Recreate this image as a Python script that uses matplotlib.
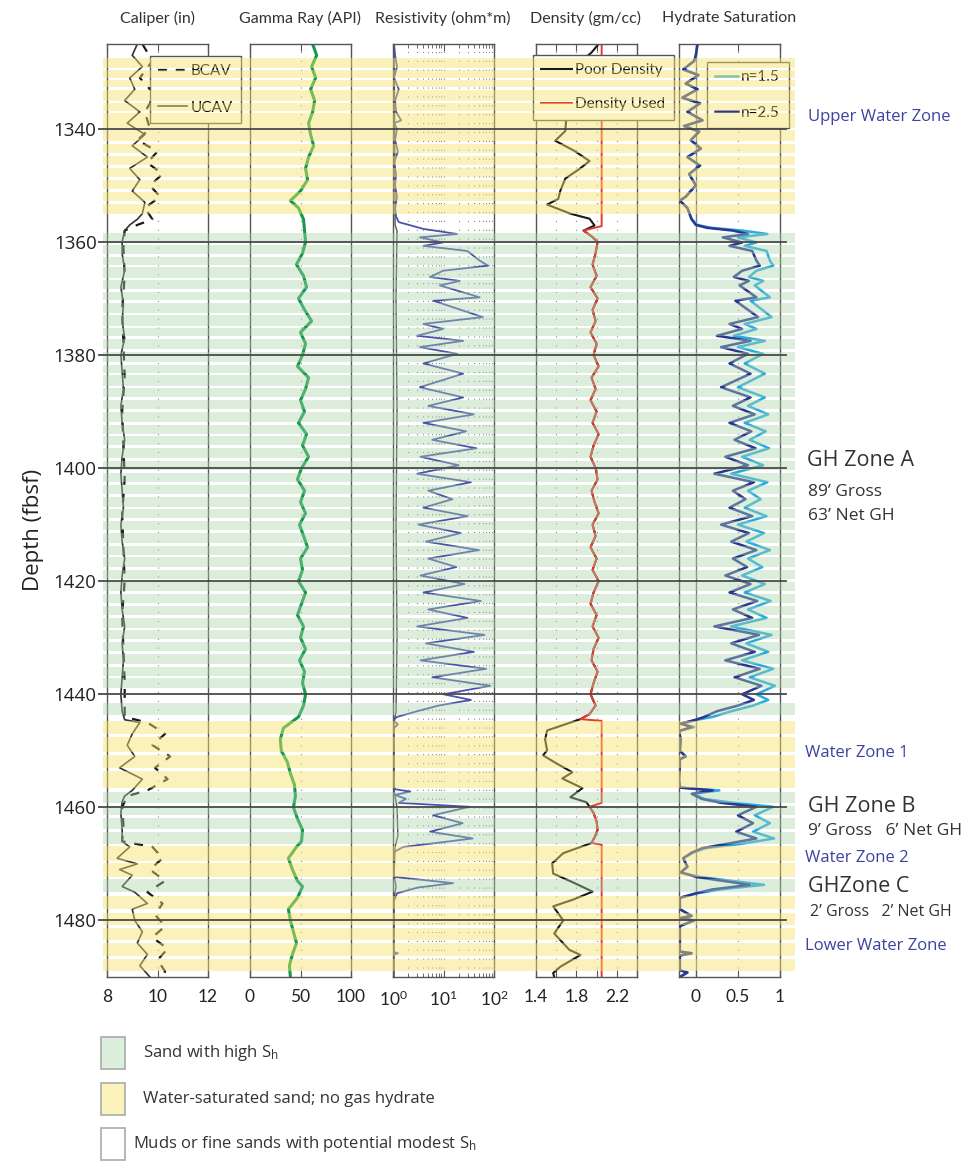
import matplotlib
matplotlib.use("Agg")
import matplotlib.pyplot as plt
from matplotlib.patches import Rectangle

NARROW = ['Lato', 'DejaVu Sans']
SANS = ['Open Sans', 'DejaVu Sans']
plt.rcParams['mathtext.fontset'] = 'custom'
plt.rcParams['mathtext.rm'] = 'Lato'
plt.rcParams['mathtext.it'] = 'Lato:italic'

# ---------------- data ----------------
depth_ticks = [1340, 1360, 1380, 1400, 1420, 1440, 1460, 1480]

yellow_bands = [(1327.5, 1329.2), (1329.6, 1331.0), (1331.3, 1332.6), (1333.1, 1335.1),
                (1335.4, 1336.8), (1337.2, 1339.8), (1340.2, 1342.1), (1342.7, 1344.2),
                (1344.8, 1346.4), (1346.9, 1348.5), (1349.0, 1350.6), (1351.1, 1352.7),
                (1353.3, 1355.0),
                (1444.7, 1447.0), (1447.6, 1450.2), (1450.8, 1453.0), (1453.6, 1456.5),
                (1466.9, 1469.5), (1469.9, 1472.3),
                (1475.6, 1478.0), (1478.6, 1480.8), (1481.3, 1483.5), (1484.0, 1486.2),
                (1486.8, 1489.0)]

green_bands = [(1358.5, 1360.2), (1360.6, 1362.2), (1362.7, 1364.0), (1364.5, 1366.3),
               (1366.8, 1368.4), (1368.9, 1370.3), (1370.8, 1372.6), (1373.0, 1374.8),
               (1375.3, 1376.7), (1377.2, 1379.0), (1379.5, 1381.2), (1381.7, 1383.1),
               (1383.6, 1385.4), (1385.9, 1387.5), (1388.0, 1389.6), (1390.1, 1391.8),
               (1392.3, 1393.9), (1394.4, 1396.0), (1396.5, 1398.2), (1398.7, 1400.3),
               (1400.8, 1402.5), (1403.0, 1404.6), (1405.1, 1406.8), (1407.3, 1408.9),
               (1409.4, 1411.0), (1411.5, 1413.2), (1413.7, 1415.3), (1415.8, 1417.5),
               (1418.0, 1419.6), (1420.1, 1421.7), (1422.2, 1423.9), (1424.4, 1426.0),
               (1426.5, 1428.2), (1428.7, 1430.3), (1430.8, 1432.4), (1432.9, 1434.6),
               (1435.1, 1436.7), (1437.2, 1438.9), (1441.5, 1443.6),
               (1457.3, 1459.2), (1459.8, 1461.3), (1461.9, 1463.8), (1464.3, 1466.5),
               (1472.7, 1475.0)]

# caliper (in)
ucav_depth = [1325, 1327, 1329, 1331, 1333, 1335, 1337, 1339, 1341, 1343,
              1345, 1347, 1349, 1351, 1353, 1355, 1356, 1357, 1358, 1360,
              1362, 1365, 1368, 1371, 1374, 1377, 1380, 1383, 1386, 1389,
              1392, 1395, 1398, 1401, 1404, 1407, 1410, 1413, 1416, 1419,
              1422, 1425, 1428, 1431, 1434, 1437, 1440, 1443, 1444.5, 1445,
              1447, 1449, 1451, 1453, 1455, 1457, 1458, 1459, 1461, 1464,
              1466, 1467, 1469, 1470, 1471, 1472, 1474, 1475, 1477, 1478,
              1480, 1482, 1484, 1486, 1488, 1490]
ucav = [9.2, 9.0, 9.4, 8.9, 9.1, 8.7, 9.3, 8.8, 9.5, 9.0,
        9.6, 8.9, 9.3, 9.0, 9.5, 9.4, 9.2, 8.9, 8.7, 8.6,
        8.6, 8.7, 8.55, 8.65, 8.6, 8.7, 8.55, 8.6, 8.65, 8.55,
        8.6, 8.7, 8.6, 8.55, 8.6, 8.65, 8.55, 8.6, 8.7, 8.6,
        8.55, 8.6, 8.7, 8.6, 8.65, 8.6, 8.55, 8.6, 8.7, 9.3,
        9.0, 8.8, 9.1, 8.5, 9.4, 9.0, 8.7, 8.6, 8.55, 8.6,
        8.6, 8.9, 8.4, 9.2, 8.5, 9.0, 8.6, 9.1, 9.6, 9.0,
        9.1, 9.4, 9.2, 9.6, 9.3, 9.7]
bcav_depth = [1325, 1328, 1331, 1334, 1337, 1340, 1342, 1344, 1346, 1348, 1350, 1352, 1354, 1356,
              1357, 1358, 1361, 1366, 1372, 1378, 1384, 1390, 1396, 1402, 1408, 1414, 1420, 1426,
              1432, 1438, 1444, 1445, 1447, 1449, 1451, 1453, 1455, 1457, 1458,
              1460, 1463, 1466, 1467, 1469, 1471, 1473, 1475, 1477, 1479,
              1481, 1483, 1485, 1487, 1489, 1490]
bcav = [9.4, 9.8, 9.3, 9.9, 9.5, 9.7, 9.2, 10.0, 9.6, 10.2, 9.7, 10.1, 9.5, 9.8,
        9.2, 8.7, 8.65, 8.7, 8.6, 8.65, 8.7, 8.6, 8.65, 8.7, 8.6, 8.65, 8.7, 8.6,
        8.65, 8.7, 8.7, 9.6, 10.3, 9.8, 10.5, 9.9, 10.4, 9.6, 8.8,
        8.6, 8.65, 8.6, 9.8, 10.2, 9.7, 10.3, 9.6, 10.2, 9.9,
        10.3, 9.8, 10.4, 10.0, 10.3, 10.2]

# gamma ray (API)
gr_depth = [1325, 1327, 1329, 1331, 1333, 1335, 1337, 1339, 1341, 1343, 1345, 1347, 1349, 1351,
            1352.7, 1354, 1356,
            1358, 1360, 1362, 1364, 1366, 1368, 1370, 1372, 1374, 1376,
            1378, 1380, 1382, 1384, 1386, 1388, 1390, 1392, 1394, 1396,
            1398, 1400, 1402, 1404, 1406, 1408, 1410, 1412, 1414, 1416,
            1418, 1420, 1422, 1424, 1426, 1428, 1430, 1432, 1434, 1436,
            1438, 1440, 1442, 1444,
            1446, 1448, 1450, 1452, 1454, 1456, 1458, 1460, 1462, 1464, 1466,
            1467, 1469, 1471, 1473, 1474, 1476, 1478, 1480, 1482, 1484, 1486, 1488, 1490]
gr = [62, 66, 61, 65, 60, 64, 62, 58, 60, 63, 58, 55, 57, 50,
      40, 48, 53,
      54, 55, 52, 46, 53, 56, 48, 54, 61, 50,
      55, 52, 47, 58, 55, 50, 54, 48, 56, 52,
      58, 51, 47, 54, 50, 55, 49, 53, 57, 50,
      52, 48, 55, 51, 47, 53, 50, 55, 49, 54,
      52, 55, 53, 48,
      33, 30, 31, 37, 40, 44, 45, 43, 47, 52, 51,
      46, 38, 42, 47, 52, 47, 38, 40, 43, 46, 42, 39, 40]

# resistivity (ohm*m), deep curve in pieces
res_up_depth = [1325, 1327, 1329, 1331, 1333, 1335, 1337, 1338.5, 1339, 1340,
                1342, 1344, 1346, 1348, 1350, 1352, 1354, 1355.5, 1356.5, 1357.7]
res_up = [1.05, 1.1, 1.2, 1.05, 1.3, 1.1, 1.15, 1.45, 1.05, 1.2,
          1.1, 1.25, 1.05, 1.15, 1.1, 1.2, 1.1, 1.15, 1.3, 4.0]
zone_a_depth = [1358.6, 1359.2, 1360.1, 1360.7, 1361.6, 1363.3, 1364.2, 1365.1, 1366.2, 1366.9,
                1367.7, 1369.8, 1370.4, 1373.3, 1374.5, 1375.4, 1376.6, 1377.5, 1378.6, 1379.8,
                1381.5, 1383.3, 1385.7, 1387.5, 1389.0, 1390.5, 1392.0, 1393.5, 1395.0, 1396.5,
                1398.0, 1399.5, 1401.0, 1402.5, 1404.0, 1405.5, 1407.0, 1408.5, 1410.0, 1411.5,
                1413.0, 1414.5, 1416.0, 1417.5, 1419.0, 1420.5, 1422.0, 1423.5, 1425.0, 1426.5,
                1428.0, 1429.5, 1431.0, 1432.5, 1434.0, 1435.5, 1437.0, 1438.5, 1440.0, 1441.0,
                1442.0, 1443.0]
res_a = [18.6, 3.4, 9.8, 4.0, 29.5, 52, 76, 9.8, 5.4, 21,
         8.5, 52, 6.3, 60, 4.0, 9.8, 3.0, 24.5, 3.4, 18.6,
         4.0, 24.5, 3.4, 24.5, 5, 40, 4, 28, 6, 45,
         3.5, 20, 3, 35, 5, 15, 4, 30, 3.2, 22,
         4.5, 50, 5, 18, 3.5, 26, 4, 55, 5, 30,
         3, 65, 4.5, 40, 3.5, 70, 6, 85, 10, 35,
         8, 3]
res_low_depth = [1444.0, 1444.6, 1445.3, 1446, 1448, 1450, 1452, 1454, 1456, 1456.8,
                 1457.2, 1457.8, 1458.5, 1459.2,
                 1459.9, 1461.4, 1462.8, 1464.3, 1465.5, 1467, 1468,
                 1470, 1472.3, 1473.4, 1474.2, 1475.2, 1477, 1480, 1483, 1485.5,
                 1485.8, 1486.1, 1488, 1490]
res_low = [1.2, 1.0, 1.25, 1.05, 1.0, 1.05, 1.0, 1.05, 1.0, 1.1,
           2.2, 1.1, 1.8, 1.3,
           33, 6.2, 24, 5.4, 38, 1.6, 1.0,
           1.0, 1.05, 15.5, 3.0, 1.2, 1.0, 1.05, 1.0, 1.0,
           1.25, 1.0, 1.02, 1.0]
res2_depth = [1325, 1340, 1357, 1358, 1370, 1390, 1410, 1430, 1443, 1445,
              1457, 1460, 1465, 1467, 1472, 1474, 1476, 1490]
res2 = [1.05, 1.08, 1.1, 1.2, 1.15, 1.2, 1.15, 1.2, 1.15, 1.05,
        1.05, 1.2, 1.25, 1.1, 1.05, 1.15, 1.05, 1.05]

# density (gm/cc)
den_up_depth = [1325, 1326.5, 1328, 1330, 1332, 1334, 1336, 1338, 1340.4, 1342.1,
                1343.9, 1345.7, 1347.1, 1348.8, 1351.0, 1352.4, 1353.4, 1355.0, 1355.9, 1357.1]
den_up = [2.02, 1.95, 1.85, 1.72, 1.80, 1.66, 1.75, 1.70, 1.69, 1.59,
          1.78, 1.93, 1.83, 1.69, 1.64, 1.62, 1.51, 1.74, 1.93, 1.98]
den_a_depth = [1358, 1359, 1360, 1362, 1364, 1366, 1368, 1370, 1372, 1374,
               1376, 1378, 1380, 1382, 1384, 1386, 1388, 1390, 1392, 1394,
               1396, 1398, 1400, 1402, 1404, 1406, 1408, 1410, 1412, 1414,
               1416, 1418, 1420, 1422, 1424, 1426, 1428, 1430, 1432, 1434,
               1436, 1438, 1440, 1442, 1443.5, 1444.4]
den_a = [1.87, 1.95, 2.01, 1.99, 1.96, 2.00, 1.94, 2.01, 1.96, 1.99,
         1.94, 2.00, 1.97, 2.02, 1.95, 1.99, 1.94, 2.00, 1.96, 2.02,
         1.97, 1.94, 1.99, 2.01, 1.95, 1.98, 2.02, 1.96, 1.99, 1.94,
         2.00, 1.96, 2.02, 1.97, 1.94, 2.00, 1.96, 2.02, 1.97, 1.95,
         2.01, 1.97, 1.94, 1.99, 1.93, 1.84]
den_wz1_depth = [1446.4, 1448, 1449.9, 1450.8, 1452.2, 1453.8, 1454.9, 1456.6, 1458.2, 1459.1]
den_wz1 = [1.51, 1.49, 1.51, 1.47, 1.60, 1.76, 1.66, 1.86, 1.74, 1.90]
den_b_depth = [1459.9, 1461, 1462.5, 1464, 1465.3, 1466.3]
den_b = [1.93, 1.97, 2.00, 2.01, 1.98, 1.95]
den_low_depth = [1468.1, 1469.9, 1471.7, 1473.3, 1474.9, 1476.3, 1477.5, 1480, 1482.3,
                 1485.2, 1486.1, 1488.2, 1489.3, 1490]
den_low = [1.67, 1.56, 1.57, 1.77, 1.96, 1.77, 1.57, 1.67, 1.58,
           1.73, 1.84, 1.64, 1.57, 1.58]
den_fixed = 2.05
den_fixed_depth = [(1325, 1357.2), (1444.7, 1459.2), (1466.6, 1490)]

# hydrate saturation, n=2.5 and n=1.5
sat_up_depth = [1325, 1327, 1328, 1329.5, 1330.5, 1332, 1333, 1334.5, 1335.5, 1337,
                1338.5, 1339.5, 1340.5, 1342, 1343.5, 1345, 1346.5, 1348, 1350, 1352,
                1352.7, 1354, 1356, 1357, 1357.5, 1358]
sat25_up = [0.02, 0.0, -0.02, -0.15, 0.03, -0.12, 0.02, -0.16, 0.05, -0.1,
            0.08, -0.14, 0.04, -0.06, 0.06, -0.1, 0.05, -0.08, 0.0, -0.12,
            -0.19, -0.1, -0.05, 0.0, 0.13, 0.44]
sat15_up = [0.02, 0.0, -0.02, -0.15, 0.03, -0.12, 0.02, -0.16, 0.05, -0.1,
            0.08, -0.14, 0.04, -0.06, 0.06, -0.1, 0.05, -0.08, 0.0, -0.12,
            -0.19, -0.1, -0.05, 0.02, 0.18, 0.55]
sat25_a = [0.62, 0.32, 0.55, 0.40, 0.67, 0.72, 0.76, 0.55, 0.45, 0.63,
           0.52, 0.72, 0.47, 0.74, 0.40, 0.55, 0.25, 0.65, 0.30, 0.62,
           0.40, 0.65, 0.30, 0.65, 0.44, 0.70, 0.40, 0.66, 0.46, 0.71,
           0.35, 0.62, 0.22, 0.69, 0.44, 0.59, 0.40, 0.67, 0.30, 0.63,
           0.42, 0.72, 0.44, 0.61, 0.35, 0.65, 0.40, 0.73, 0.44, 0.67,
           0.22, 0.75, 0.42, 0.70, 0.35, 0.76, 0.46, 0.78, 0.55, 0.69,
           0.50, 0.25]
sat15_a = [0.85, 0.50, 0.72, 0.58, 0.84, 0.88, 0.92, 0.72, 0.63, 0.80,
           0.70, 0.88, 0.65, 0.90, 0.58, 0.72, 0.45, 0.82, 0.50, 0.80,
           0.58, 0.82, 0.50, 0.82, 0.62, 0.86, 0.58, 0.83, 0.64, 0.87,
           0.55, 0.80, 0.42, 0.85, 0.62, 0.77, 0.58, 0.84, 0.50, 0.81,
           0.60, 0.88, 0.62, 0.79, 0.55, 0.82, 0.58, 0.89, 0.62, 0.84,
           0.42, 0.90, 0.60, 0.86, 0.55, 0.92, 0.64, 0.94, 0.72, 0.86,
           0.68, 0.42]
sat_low_depth = [1444, 1444.5, 1445.2, 1445.8, 1446.5, 1448, 1450, 1451, 1451.5, 1453,
                 1455, 1456.5, 1457, 1457.6, 1458.5, 1459.2,
                 1459.9, 1461.4, 1462.8, 1464.3, 1465.5, 1466.5, 1467.2, 1468,
                 1469, 1470.5, 1471.5, 1472.3, 1473.7, 1474.5, 1475.2, 1476, 1478, 1479.2,
                 1479.6, 1480, 1481, 1483, 1485.5, 1485.8, 1486.2, 1487, 1488.8, 1489.2, 1490]
sat25_low = [0.1, 0.0, -0.18, -0.05, -0.2, -0.18, -0.19, -0.12, -0.19, -0.19,
             -0.2, -0.19, 0.2, -0.05, 0.07, 0.3,
             0.72, 0.50, 0.68, 0.48, 0.72, 0.35, 0.08, -0.05,
             -0.15, -0.1, -0.18, 0.0, 0.64, 0.2, 0.0, -0.19, -0.19, -0.05,
             -0.19, -0.02, -0.19, -0.19, -0.19, -0.05, -0.19, -0.19, -0.19, -0.1, -0.19]
sat15_low = [0.2, 0.02, -0.18, -0.02, -0.2, -0.18, -0.19, -0.12, -0.19, -0.19,
             -0.2, -0.19, 0.28, -0.03, 0.1, 0.45,
             0.92, 0.70, 0.88, 0.68, 0.93, 0.52, 0.12, -0.03,
             -0.15, -0.1, -0.18, 0.05, 0.81, 0.3, 0.02, -0.19, -0.19, -0.05,
             -0.19, -0.02, -0.19, -0.19, -0.19, -0.05, -0.19, -0.19, -0.19, -0.1, -0.19]

zone_labels = [("Upper Water Zone", 808, 117, 12, '#3d42a0'),
               ("GH Zone A", 807, 460, 15.5, '#333333'),
               ("89\u2019 Gross", 808, 492, 12.5, '#333333'),
               ("63\u2019 Net GH", 808, 516, 12.5, '#333333'),
               ("Water Zone 1", 805, 753, 12, '#3d42a0'),
               ("GH Zone B", 808, 806, 15.5, '#333333'),
               ("9\u2019 Gross   6\u2019 Net GH", 808, 831, 12.5, '#333333'),
               ("Water Zone 2", 805, 858, 12, '#3d42a0'),
               ("GHZone C", 808, 887, 15.5, '#333333'),
               ("2\u2019 Gross   2\u2019 Net GH", 810, 912, 11.5, '#333333'),
               ("Lower Water Zone", 805, 946, 12, '#3d42a0')]

# ---------------- layout ----------------
W, H = 974, 1162
TOP, BOT = 44, 977
DMIN, DMAX = 1325, 1490
YELLOW, YEL_A = '#f7e36a', 0.45
GREEN, GRN_A = '#a9d4a9', 0.40
EDGE = '#555555'


def fx(px):
    return px / W


def fy(py):
    return 1 - py / H


fig = plt.figure(figsize=(W / 100, H / 100), dpi=100)


def track(left, title):
    ax = fig.add_axes([fx(left), fy(BOT), 101 / W, (BOT - TOP) / H])
    ax.set_ylim(DMAX, DMIN)
    ax.set_yticks([])
    ax.patch.set_visible(False)
    for s in ax.spines.values():
        s.set_color(EDGE)
        s.set_linewidth(1)
    ax.tick_params(axis='x', which='both', direction='in', top=True, bottom=True,
                   colors=EDGE, labelcolor='#222222', labelsize=12.5, pad=9)
    ax.tick_params(axis='x', which='major', length=5)
    fig.text(fx(left + 50), fy(18), title, ha='center', va='center',
             family=NARROW, fontsize=11.5, color='#333333')
    return ax


def style_ticks(ax):
    for lab in ax.get_xticklabels():
        lab.set_family(NARROW)


def vgrid(ax, xs):
    for v in xs:
        ax.axvline(v, color='#888888', lw=0.8, ls=(0, (1, 7)), zorder=0)


def add_legend(ax, x, y, hl, ls):
    leg = ax.legend(loc='upper left', bbox_to_anchor=(fx(x), fy(y)),
                    bbox_transform=fig.transFigure, borderaxespad=0, frameon=True,
                    fancybox=False, edgecolor=EDGE, facecolor='white', framealpha=1,
                    prop={'family': NARROW, 'size': 11}, handlelength=hl,
                    labelspacing=ls, borderpad=0.55, handletextpad=0.2)
    leg.get_frame().set_linewidth(1)


# caliper
ax1 = track(107, "Caliper (in)")
ax1.set_xlim(8, 12)
ax1.set_xticks([8, 10, 12])
vgrid(ax1, [10])
ax1.plot(bcav, bcav_depth, color='#1a1a1a', lw=1.6, ls=(0, (4, 4)), label='BCAV')
ax1.plot(ucav, ucav_depth, color='#333333', lw=1.2, label='UCAV')
add_legend(ax1, 150, 56, 1.9, 1.45)

# gamma ray
ax2 = track(250, "Gamma Ray (API)")
ax2.set_xlim(0, 100)
ax2.set_xticks([0, 50, 100])
vgrid(ax2, [50])
ax2.plot(gr, gr_depth, color='#15994a', lw=2.2)

# resistivity
ax3 = track(393, "Resistivity (ohm*m)")
ax3.set_xscale('log')
ax3.set_xlim(1, 100)
ax3.tick_params(axis='x', which='minor', direction='in', top=True, bottom=True, length=3, colors=EDGE)
vgrid(ax3, [2, 3, 4, 5, 6, 7, 8, 9, 10, 20, 30, 40, 50, 60, 70, 80, 90])
ax3.plot(res2, res2_depth, color='#555555', lw=1.0)
ax3.plot(res_up + res_a + res_low, res_up_depth + zone_a_depth + res_low_depth,
         color='#4b52ab', lw=1.3)

# density
ax4 = track(536, "Density (gm/cc)")
ax4.set_xlim(1.4, 2.4)
ax4.set_xticks([1.4, 1.6, 1.8, 2.0, 2.2, 2.4])
ax4.set_xticklabels(['1.4', '', '1.8', '', '2.2', ''])
vgrid(ax4, [1.6, 1.8, 2.0, 2.2])
ax4.plot(den_up + den_a + den_wz1 + den_b + den_low,
         den_up_depth + den_a_depth + den_wz1_depth + den_b_depth + den_low_depth,
         color='#1a1a1a', lw=1.5, label='Poor Density')
used_depth = ([den_fixed_depth[0][0], den_fixed_depth[0][1]] + den_a_depth +
              [den_fixed_depth[1][0], den_fixed_depth[1][1]] + den_b_depth +
              [den_fixed_depth[2][0], den_fixed_depth[2][1]])
used_val = ([den_fixed, den_fixed] + den_a + [den_fixed, den_fixed] + den_b +
            [den_fixed, den_fixed])
ax4.plot(used_val, used_depth, color='#e8392a', lw=1.4, label='Density Used')
add_legend(ax4, 533, 55, 2.0, 1.3)

# hydrate saturation
ax5 = track(679, "Hydrate Saturation")
ax5.set_xlim(-0.2, 1.0)
ax5.set_xticks([0, 0.5, 1])
ax5.set_xticklabels(['0', '0.5', '1'])
vgrid(ax5, [0.5])
ax5.axvline(0, color='#777777', lw=1.0, zorder=0)
ax5.plot(sat15_up + sat15_a + sat15_low, sat_up_depth + zone_a_depth + sat_low_depth,
         color='#29abe2', lw=1.8, label='n=1.5')
ax5.plot(sat25_up + sat25_a + sat25_low, sat_up_depth + zone_a_depth + sat_low_depth,
         color='#2b3592', lw=1.8, label='n=2.5')
add_legend(ax5, 707, 62, 1.5, 1.4)

for ax in (ax1, ax2, ax3, ax4, ax5):
    style_ticks(ax)

# band overlay (drawn over the logs, semi transparent)
BL = 98
axb = fig.add_axes([fx(BL), fy(BOT), (795 - BL) / W, (BOT - TOP) / H], zorder=5)
axb.patch.set_visible(False)
axb.set_xlim(0, 1)
axb.set_ylim(DMAX, DMIN)
for s in axb.spines.values():
    s.set_visible(False)
axb.set_xticks([])
axb.set_yticks(depth_ticks)
axb.tick_params(axis='y', length=0, pad=1, labelsize=13.5, labelcolor='#222222')
for lab in axb.get_yticklabels():
    lab.set_family(SANS)
x0 = (103 - BL) / (795 - BL)
for top, bot in yellow_bands:
    axb.axhspan(top, bot, xmin=x0, xmax=1, color=YELLOW, alpha=YEL_A, lw=0)
for top, bot in green_bands:
    axb.axhspan(top, bot, xmin=x0, xmax=1, color=GREEN, alpha=GRN_A, lw=0)
for d in depth_ticks:
    axb.axhline(d, xmin=0, xmax=(786 - BL) / (795 - BL), color='#4a4a4a', lw=1.3)

fig.text(fx(33), fy(530), "Depth (fbsf)", rotation=90, ha='center', va='center',
         family=SANS, fontsize=16, color='#222222')

for txt, x, y, size, col in zone_labels:
    fig.text(fx(x), fy(y), txt, ha='left', va='center', family=SANS, fontsize=size, color=col)

# bottom key
key = [("Sand with high S$_\\mathregular{h}$", '#dceedc', 1053, 143),
       ("Water-saturated sand; no gas hydrate", '#fbf2bc', 1099, 143),
       ("Muds or fine sands with potential modest S$_\\mathregular{h}$", 'white', 1144, 133)]
for txt, col, y, tx in key:
    fig.patches.append(Rectangle((fx(101), fy(y + 16)), 24 / W, 32 / H, transform=fig.transFigure,
                                 facecolor=col, edgecolor='#aaaaaa', lw=1.2))
    fig.text(fx(tx), fy(y), txt, ha='left', va='center', family=SANS, fontsize=12, color='#333333')

fig.savefig("out.png", dpi=100)
